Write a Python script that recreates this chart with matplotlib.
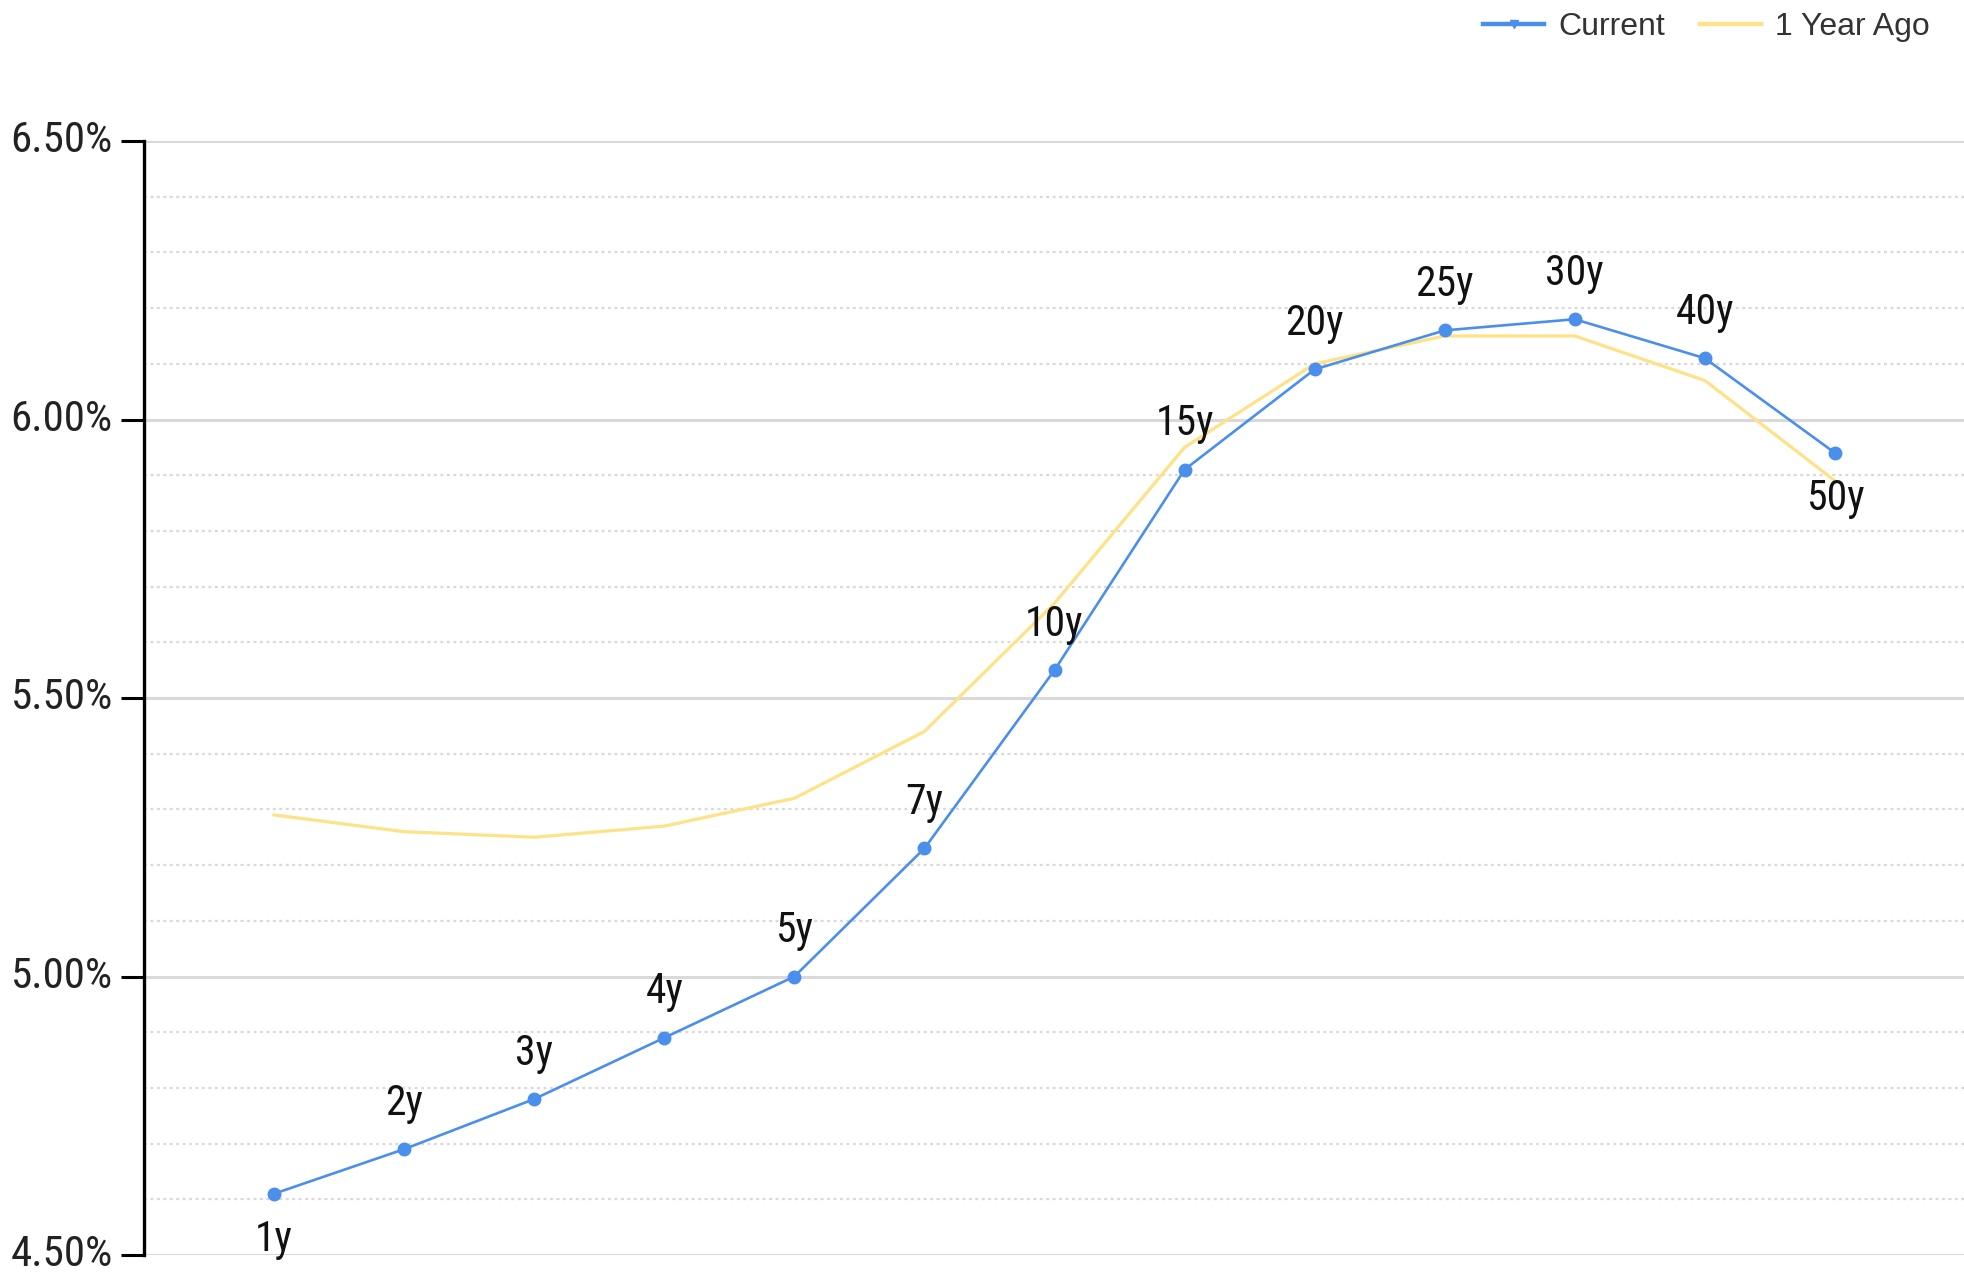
import matplotlib
matplotlib.use("Agg")
import matplotlib.pyplot as plt
import matplotlib.font_manager as fm
import matplotlib.transforms as mtransforms
from matplotlib.ticker import MultipleLocator, FuncFormatter

tenors = ["1y", "2y", "3y", "4y", "5y", "7y", "10y", "15y", "20y", "25y", "30y", "40y", "50y"]
current = [4.61, 4.69, 4.78, 4.89, 5.00, 5.23, 5.55, 5.91, 6.09, 6.16, 6.18, 6.11, 5.94]
year_ago = [5.29, 5.26, 5.25, 5.27, 5.32, 5.44, 5.67, 5.95, 6.10, 6.15, 6.15, 6.07, 5.89]
label_below = ["1y", "50y"]

BLUE = "#4a8fec"
YELLOW = "#fee288"
GRID = "#d9d9d9"

# pick a narrow font if one is installed
_names = {f.name for f in fm.fontManager.ttflist}
NARROW = None
for cand in ["Liberation Sans Narrow", "Roboto Condensed", "Arial Narrow"]:
    if cand in _names:
        NARROW = cand
        break
if NARROW:
    FAM = [NARROW, "DejaVu Sans"]
    TICK_SIZE, LAB_SIZE = 31, 30
else:
    FAM = ["Liberation Sans", "DejaVu Sans"]
    TICK_SIZE, LAB_SIZE = 27, 25

fig = plt.figure(figsize=(19.65, 12.76), dpi=100)
ax = fig.add_axes([144 / 1965, 21 / 1276, 1 - 144 / 1965, (1255 - 141) / 1276])

x = list(range(1, len(tenors) + 1))
ax.plot(x, year_ago, color=YELLOW, lw=2.3, zorder=3, label="1 Year Ago")
ax.plot(x, current, color=BLUE, lw=1.9, marker="o", markersize=9, zorder=4, label="Current")

for xi, yi, t in zip(x, current, tenors):
    off = -33 if t in label_below else 33
    ax.annotate(t, (xi, yi), xytext=(0, off), textcoords="offset points",
                ha="center", va="center", fontsize=LAB_SIZE, family=FAM, color="#111111", zorder=5)

ax.set_xlim(0, 14)
ax.set_ylim(4.5, 6.5)
ax.yaxis.set_major_locator(MultipleLocator(0.5))
ax.yaxis.set_minor_locator(MultipleLocator(0.1))
ax.yaxis.set_major_formatter(FuncFormatter(lambda v, p: f"{v:.2f}%"))
ax.grid(True, which="major", axis="y", color=GRID, lw=2.2, zorder=0)
ax.grid(True, which="minor", axis="y", color=GRID, lw=1.6, linestyle=(0, (1.3, 1.6)), zorder=0)
ax.set_axisbelow(True)
ax.set_xticks([])
ax.tick_params(axis="y", which="major", length=16.5, width=2.2, pad=6, labelsize=TICK_SIZE,
               colors="#000000", labelcolor="#222222")
ax.tick_params(axis="y", which="minor", length=0)
shift = mtransforms.ScaledTranslation(0, 5 / 100, fig.dpi_scale_trans)
for lab in ax.get_yticklabels():
    lab.set_family(FAM)
    lab.set_transform(lab.get_transform() + shift)
for s in ["top", "right", "bottom"]:
    ax.spines[s].set_visible(False)
ax.spines["left"].set_linewidth(2.4)
ax.spines["left"].set_color("#000000")

h_cur = plt.Line2D([0, 0.5, 1], [0, 0, 0], color=BLUE, lw=3.2, marker="v", markersize=6, markevery=[1])
h_ago = plt.Line2D([], [], color=YELLOW, lw=3.2)
fig.legend([h_cur, h_ago], ["Current", "1 Year Ago"], loc="center right",
           bbox_to_anchor=(1930 / 1965, 1 - 27 / 1276), ncol=2, frameon=False,
           prop={"family": "Liberation Sans", "size": 23}, labelcolor="#333333",
           handlelength=1.9, handletextpad=0.45, columnspacing=1.1, borderpad=0, borderaxespad=0)

fig.savefig("out.png", dpi=100, facecolor="white")
